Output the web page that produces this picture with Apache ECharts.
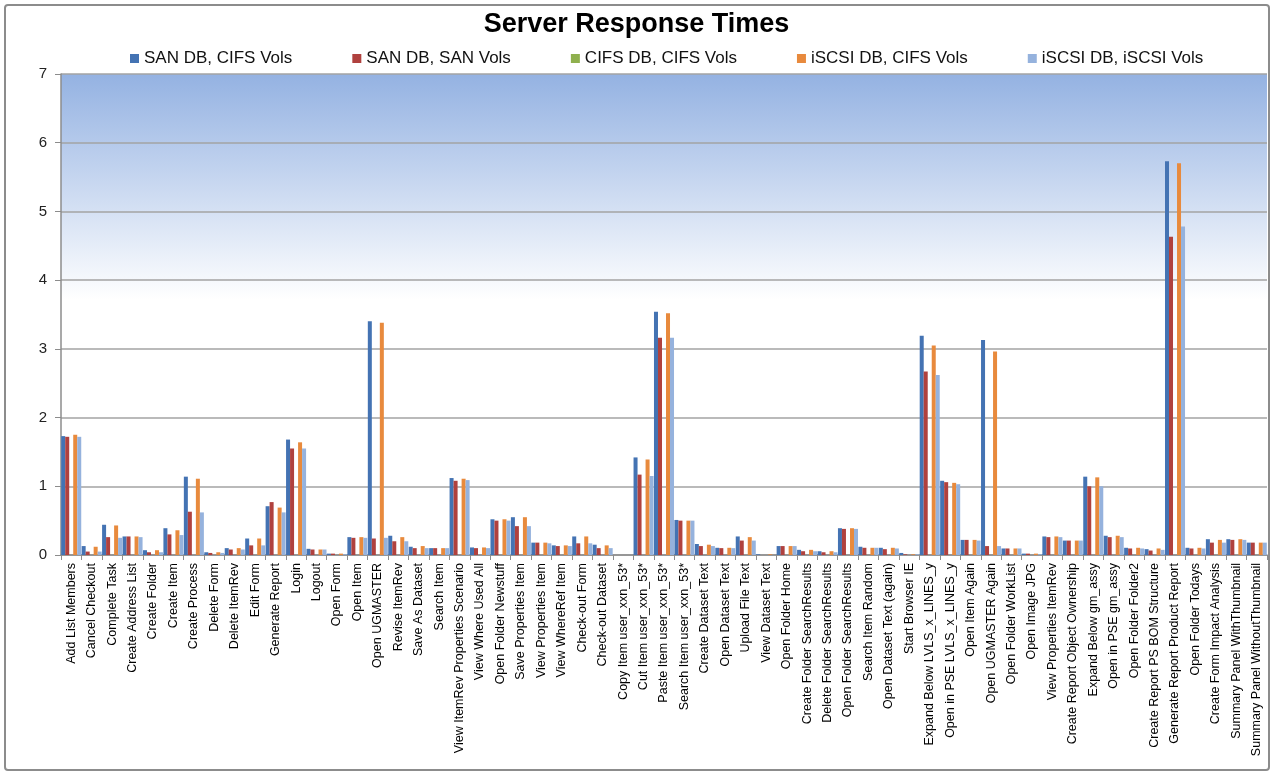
<!DOCTYPE html>
<html>
<head>
<meta charset="utf-8">
<title>Server Response Times</title>
<script src="https://cdn.jsdelivr.net/npm/echarts@6/dist/echarts.min.js"></script>
<style>
  html, body { margin: 0; padding: 0; background: #ffffff; }
  #chart { width: 1273px; height: 773px; }
</style>
</head>
<body>
<div id="chart"></div>
<script>
// Transaction names (x axis)
const categories = [
  'Add List Members', 'Cancel Checkout', 'Complete Task', 'Create Address List', 'Create Folder',
  'Create Item', 'Create Process', 'Delete Form', 'Delete ItemRev', 'Edit Form',
  'Generate Report', 'Login', 'Logout', 'Open Form', 'Open Item',
  'Open UGMASTER', 'Revise ItemRev', 'Save As Dataset', 'Search Item', 'View ItemRev Properties Scenario',
  'View Where Used All', 'Open Folder Newstuff', 'Save Properties Item', 'View Properties Item', 'View WhereRef Item',
  'Check-out Form', 'Check-out Dataset', 'Copy Item user_xxn_53*', 'Cut Item user_xxn_53*', 'Paste Item user_xxn_53*',
  'Search Item user_xxn_53*', 'Create Dataset Text', 'Open Dataset Text', 'Upload File Text', 'View Dataset Text',
  'Open Folder Home', 'Create Folder SearchResults', 'Delete Folder SearchResults', 'Open Folder SearchResults', 'Search Item Random',
  'Open Dataset Text (again)', 'Start Browser IE', 'Expand Below LVLS_x_LINES_y', 'Open in PSE LVLS_x_LINES_y', 'Open Item Again',
  'Open UGMASTER Again', 'Open Folder WorkList', 'Open Image JPG', 'View Properties ItemRev', 'Create Report Object Ownership',
  'Expand Below gm_assy', 'Open in PSE gm_assy', 'Open Folder Folder2', 'Create Report PS BOM Structure', 'Generate Report Product Report',
  'Open Folder Todays', 'Create Form Impact Analysis', 'Summary Panel WithThumbnail', 'Summary Panel WithoutThumbnail'
];

// Series names
const seriesNames = ['SAN DB, CIFS Vols', 'SAN DB, SAN Vols', 'CIFS DB, CIFS Vols', 'iSCSI DB, CIFS Vols', 'iSCSI DB, iSCSI Vols'];

// Response times (seconds)
const sanCifs = [
  1.73, 0.13, 0.44, 0.27, 0.07, 0.39, 1.14, 0.04, 0.10, 0.24,
  0.71, 1.68, 0.09, 0.02, 0.26, 3.40, 0.28, 0.12, 0.10, 1.12,
  0.11, 0.52, 0.55, 0.18, 0.14, 0.27, 0.15, 0, 1.42, 3.54,
  0.51, 0.16, 0.105, 0.27, 0.01, 0.13, 0.075, 0.055, 0.39, 0.12,
  0.105, 0.03, 3.19, 1.08, 0.22, 3.13, 0.095, 0.02, 0.27, 0.21,
  1.14, 0.28, 0.105, 0.085, 5.73, 0.105, 0.23, 0.23, 0.18
];
const sanSan = [
  1.72, 0.05, 0.26, 0.27, 0.04, 0.30, 0.63, 0.03, 0.08, 0.14,
  0.77, 1.55, 0.08, 0.02, 0.25, 0.24, 0.20, 0.10, 0.10, 1.08,
  0.10, 0.50, 0.42, 0.18, 0.13, 0.17, 0.10, 0, 1.17, 3.16,
  0.50, 0.13, 0.10, 0.21, 0, 0.13, 0.055, 0.04, 0.38, 0.105,
  0.085, 0.01, 2.67, 1.06, 0.22, 0.13, 0.095, 0.02, 0.26, 0.21,
  1.00, 0.26, 0.095, 0.065, 4.63, 0.095, 0.18, 0.22, 0.18
];
const cifsCifs = [
  0, 0, 0, 0, 0, 0, 0, 0, 0, 0,
  0, 0, 0, 0, 0, 0, 0, 0, 0, 0,
  0, 0, 0, 0, 0, 0, 0, 0, 0, 0,
  0, 0, 0, 0, 0, 0, 0, 0, 0, 0,
  0, 0, 0, 0, 0, 0, 0, 0, 0, 0,
  0, 0, 0, 0, 0, 0, 0, 0, 0
];
const iscsiCifs = [
  1.75, 0.12, 0.43, 0.27, 0.07, 0.36, 1.11, 0.04, 0.10, 0.24,
  0.69, 1.64, 0.08, 0.02, 0.26, 3.38, 0.26, 0.13, 0.10, 1.11,
  0.11, 0.52, 0.55, 0.18, 0.14, 0.27, 0.14, 0, 1.39, 3.52,
  0.50, 0.15, 0.105, 0.26, 0.01, 0.13, 0.075, 0.055, 0.39, 0.105,
  0.105, 0.01, 3.05, 1.05, 0.22, 2.96, 0.095, 0.02, 0.27, 0.21,
  1.13, 0.28, 0.105, 0.095, 5.70, 0.105, 0.22, 0.23, 0.18
];
const iscsiIscsi = [
  1.72, 0.05, 0.25, 0.26, 0.04, 0.29, 0.62, 0.03, 0.08, 0.14,
  0.62, 1.55, 0.08, 0.01, 0.25, 0.25, 0.20, 0.10, 0.10, 1.09,
  0.10, 0.50, 0.42, 0.17, 0.13, 0.17, 0.10, 0, 1.15, 3.16,
  0.50, 0.13, 0.10, 0.21, 0, 0.13, 0.055, 0.04, 0.38, 0.105,
  0.095, 0.01, 2.62, 1.03, 0.21, 0.13, 0.095, 0.01, 0.26, 0.21,
  1.00, 0.26, 0.095, 0.075, 4.78, 0.095, 0.18, 0.22, 0.18
];

// Y axis ticks
const yMin = 0, yMax = 7, yStep = 1;

const seriesData = [sanCifs, sanSan, cifsCifs, iscsiCifs, iscsiIscsi];
const seriesColors = ['#4473b3', '#b0413e', '#8fb04e', '#e88a3d', '#95b2dd'];

const chart = echarts.init(document.getElementById('chart'), null, { renderer: 'canvas' });

const textFont = '"Liberation Sans", Arial, sans-serif';

chart.setOption({
  animation: false,
  backgroundColor: '#ffffff',
  title: {
    text: 'Server Response Times',
    left: 'center',
    top: 6,
    textStyle: { fontFamily: textFont, fontSize: 27, fontWeight: 'bold', color: '#000000' }
  },
  legend: {
    data: seriesNames,
    top: 45,
    left: 125,
    itemWidth: 9,
    itemHeight: 9,
    itemGap: 60,
    icon: 'rect',
    textStyle: { fontFamily: textFont, fontSize: 17, color: '#111111' }
  },
  graphic: [{
    type: 'rect',
    shape: { x: 5, y: 5, width: 1264, height: 765, r: 3 },
    style: { fill: 'none', stroke: '#8c8c8c', lineWidth: 2 },
    silent: true,
    z: 100
  }],
  grid: {
    left: 61,
    right: 6,
    top: 74,
    bottom: 218,
    show: true,
    borderWidth: 0,
    backgroundColor: new echarts.graphic.LinearGradient(0, 0, 0, 1, [
      { offset: 0, color: '#94b2e2' },
      { offset: 0.47, color: '#ffffff' },
      { offset: 1, color: '#ffffff' }
    ])
  },
  xAxis: {
    type: 'category',
    data: categories,
    boundaryGap: true,
    axisLine: { lineStyle: { color: '#8c8c8c', width: 1.5 } },
    axisTick: { show: true, length: 5, lineStyle: { color: '#8c8c8c' } },
    axisLabel: {
      interval: 0,
      rotate: 90,
      margin: 8,
      fontFamily: textFont,
      fontSize: 12.5,
      color: '#000000'
    },
    splitLine: { show: false }
  },
  yAxis: {
    type: 'value',
    min: yMin,
    max: yMax,
    interval: yStep,
    axisLine: { show: true, lineStyle: { color: '#8c8c8c', width: 1.5 } },
    axisTick: { show: true, length: 6, lineStyle: { color: '#8c8c8c' } },
    axisLabel: { fontFamily: textFont, fontSize: 15, color: '#222222', margin: 14 },
    splitLine: { show: true, lineStyle: { color: '#a3a3a3', width: 1.5 } }
  },
  series: seriesNames.map((name, i) => ({
    name: name,
    type: 'bar',
    data: seriesData[i],
    barGap: '0%',
    barCategoryGap: '2%',
    itemStyle: { color: seriesColors[i] }
  }))
});
</script>
</body>
</html>
